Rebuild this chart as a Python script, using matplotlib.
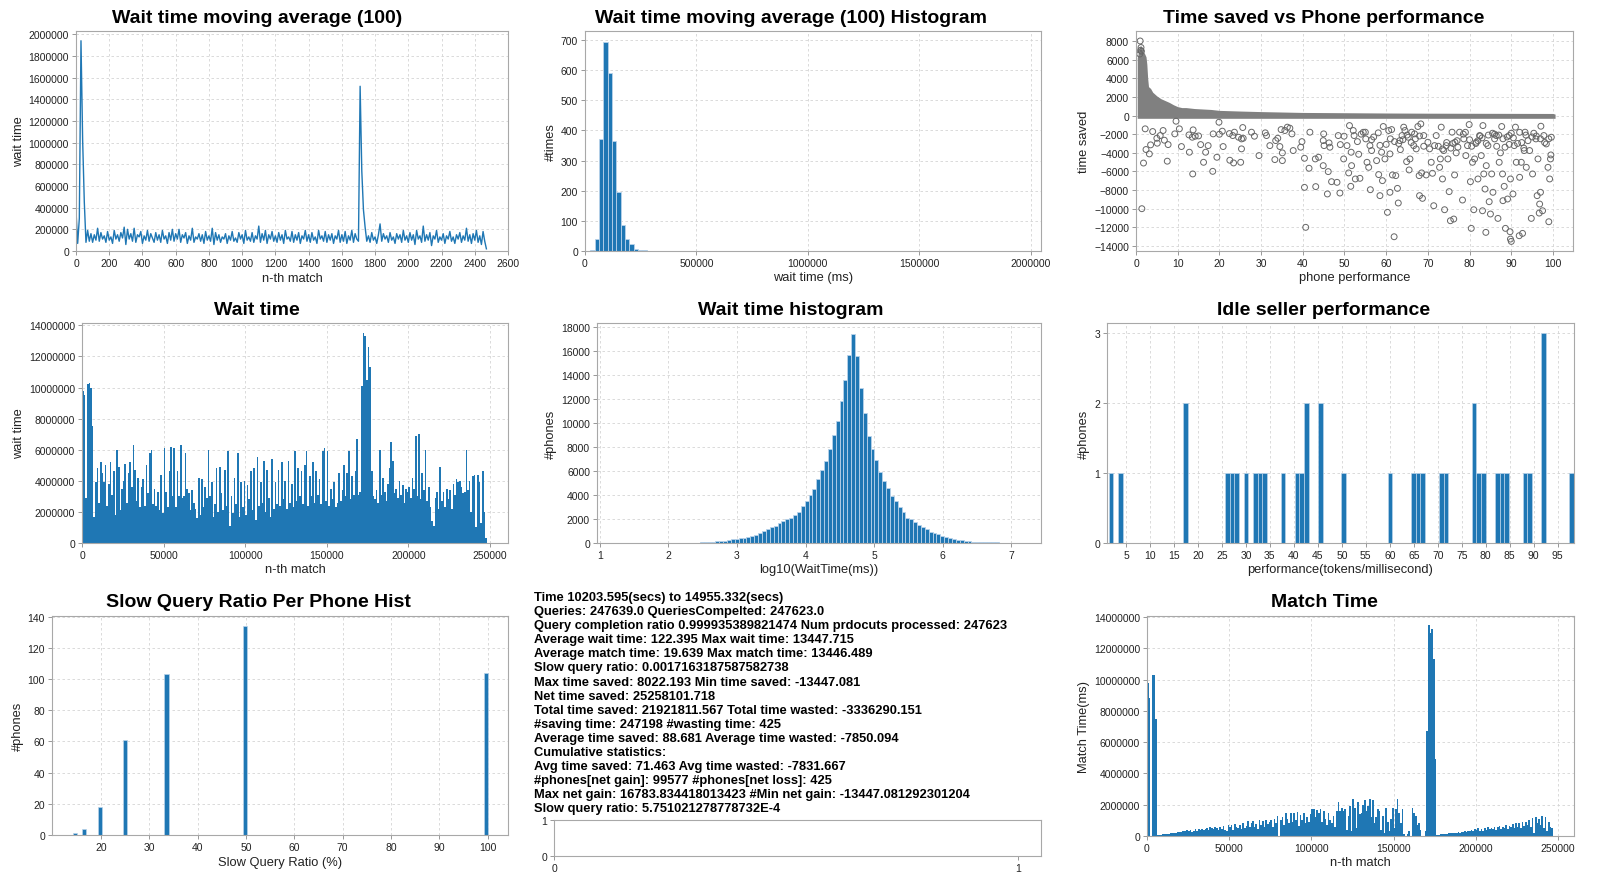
import numpy as np
import matplotlib.pyplot as plt

plt.rcParams['font.family'] = ['Liberation Sans', 'DejaVu Sans']

BLUE = '#1f77b4'

# wait time moving average (100), in thousands of ms, one value every 10 matches
ma_step = 10
ma_wait = [370, 70, 300, 1940, 1020, 450, 80, 190, 90, 160,
           80, 150, 100, 210, 90, 170, 110, 140, 80, 180,
           100, 130, 70, 190, 110, 150, 90, 170, 120, 220,
           60, 200, 110, 160, 90, 210, 80, 150, 130, 180,
           70, 140, 100, 190, 90, 160, 120, 80, 170, 100,
           150, 80, 190, 110, 140, 70, 170, 100, 200, 90,
           160, 110, 200, 80, 150, 120, 170, 70, 140, 100,
           210, 80, 130, 110, 160, 90, 150, 70, 180, 100,
           140, 90, 210, 60, 170, 100, 150, 80, 130, 110,
           160, 70, 140, 100, 180, 90, 120, 80, 170, 110,
           150, 70, 190, 100, 130, 90, 170, 80, 140, 110,
           230, 80, 160, 100, 190, 70, 150, 110, 180, 90,
           140, 80, 170, 100, 150, 70, 190, 110, 130, 90,
           180, 80, 150, 100, 170, 70, 140, 110, 190, 90,
           150, 80, 170, 100, 130, 70, 190, 110, 140, 90,
           180, 80, 150, 100, 160, 70, 140, 110, 190, 80,
           150, 90, 180, 70, 140, 100, 190, 80, 160, 110,
           90, 1520, 740, 380, 220, 90, 140, 80, 170, 100,
           130, 70, 150, 250, 90, 160, 110, 140, 80, 170,
           100, 130, 70, 160, 110, 150, 80, 190, 100, 140,
           80, 170, 100, 150, 60, 190, 110, 140, 80, 230,
           90, 150, 100, 170, 50, 140, 110, 190, 80, 130,
           100, 160, 70, 140, 110, 180, 90, 130, 70, 150,
           110, 170, 80, 140, 100, 210, 90, 150, 70, 160,
           100, 190, 80, 140, 60, 180, 90, 20]

# histogram of the moving average (100 bins)
mah_start = 24000
mah_width = 19400
mah_counts = [3, 39, 372, 695, 592, 366, 195, 87, 40, 23,
              8, 3, 2, 1, 0, 0, 0, 1, 0, 1,
              0, 1, 0, 1, 0, 1, 1, 0, 1, 0,
              0, 0, 0, 1, 0, 0, 1, 0, 0, 1,
              0, 0, 0, 1, 0, 0, 0, 0, 1, 0,
              0, 1, 0, 0, 0, 1, 0, 0, 0, 0,
              1, 0, 0, 0, 0, 0, 0, 0, 0, 0,
              1, 0, 0, 0, 0, 0, 0, 1, 0, 0,
              0, 0, 0, 1, 0, 0, 0, 0, 0, 0,
              0, 1, 0, 0, 0, 0, 1, 0, 0, 1]

# time saved vs phone performance: dense positive band + losing phones
band_x = [0.3, 0.6, 0.9, 1.1, 1.3, 1.6, 2.0, 2.4, 2.6, 2.8, 3.0, 3.5, 4.0, 4.5,
          5.0, 6.0, 7.0, 8.0, 9.0, 10.0, 11.0, 12.0, 13.0, 14.0, 16.0, 18.0,
          20.0, 25.0, 30.0, 40.0, 50.0, 60.0, 70.0, 80.0, 90.0, 100.0, 100.5]
band_top = [6200, 6800, 7300, 7600, 7300, 6900, 6700, 6300, 5500, 4000, 3100, 2900,
            2500, 2300, 2100, 1800, 1600, 1400, 1150, 950, 850, 850, 800, 750, 700,
            650, 550, 480, 420, 330, 300, 270, 250, 240, 230, 220, 150]
band_bottom = -300
top_perf = [1.0, 1.2, 1.1, 1.3, 0.9]
top_saved = [8000, 7300, 7000, 6900, 6600]
perf_neg = [1.4, 1.8, 2.2, 2.4, 3.2, 3.5, 4.0, 5.0, 5.1, 5.8, 6.5, 6.8, 7.5, 7.7, 9.3, 9.6,
            10.4, 10.9, 12.7, 12.8, 13.6, 13.7, 13.5, 14.2, 15.0, 15.5, 16.2, 16.7, 17.3,
            18.4, 18.5, 19.4, 19.9, 20.0, 20.7, 20.9, 22.4, 22.5, 23.2, 23.4, 23.6, 24.6,
            25.1, 25.3, 25.6, 25.3, 25.7, 27.7, 28.4, 29.5, 31.0, 31.3, 32.1, 33.3, 33.5,
            34.0, 34.5, 34.8, 35.1, 35.1, 35.7, 36.3, 36.9, 37.4, 37.7, 39.5, 39.8, 40.4,
            40.4, 40.7, 41.7, 41.5, 43.0, 43.1, 43.8, 44.9, 45.0, 44.9, 45.1, 45.9, 46.1,
            46.3, 46.5, 46.9, 48.2, 48.9, 48.5, 49.0, 49.9, 49.8, 50.6, 51.0, 51.2, 51.5,
            51.6, 51.7, 52.1, 52.3, 52.6, 53.1, 53.4, 53.7, 55.0, 55.1, 55.4, 55.8, 56.1,
            56.2, 56.5, 57.7, 58.1, 58.2, 58.5, 58.9, 59.1, 59.3, 59.7, 60.3, 60.6, 60.9,
            60.9, 61.3, 61.5, 61.9, 62.3, 62.7, 62.9, 63.3, 63.4, 63.8, 64.2, 64.5, 64.9,
            65.3, 65.5, 65.7, 66.1, 66.6, 66.8, 67.2, 67.6, 67.9, 68.0, 68.3, 68.5, 68.7,
            69.0, 69.6, 70.0, 70.4, 70.8, 71.1, 71.4, 71.6, 72.0, 72.8, 73.0, 73.2, 73.5,
            73.8, 74.0, 74.4, 74.8, 75.1, 75.4, 75.8, 76.2, 76.4, 76.5, 76.8, 77.2, 77.6,
            78.3, 78.6, 79.1, 79.5, 79.9, 80.2, 80.4, 80.7, 81.0, 81.2, 81.6, 82.0, 82.4,
            82.8, 83.1, 83.2, 83.4, 83.7, 83.9, 84.0, 84.4, 84.7, 85.0, 85.3, 85.6, 86.0,
            86.4, 86.8, 87.1, 87.4, 87.7, 87.9, 88.0, 88.3, 88.6, 89.1, 89.5, 89.7, 89.8,
            90.0, 89.8, 90.4, 90.7, 91.0, 91.2, 91.9, 92.0, 92.4, 92.7, 93.1, 93.3, 93.6,
            94.4, 94.8, 95.1, 95.4, 95.9, 96.2, 96.4, 96.7, 96.8, 97.0, 97.1, 97.5, 97.8,
            98.4, 98.8, 99.0, 99.2, 99.4, 99.5, 99.6,
            78.5, 79.0, 80.0, 80.5, 81.5, 82.0, 82.5, 83.0, 84.0, 84.5, 85.5, 86.0, 86.5,
            87.0, 88.0, 88.5, 89.0, 89.5, 90.0, 90.5, 91.5, 92.0, 92.5, 93.0, 93.5, 94.0,
            95.0, 96.0, 97.0, 98.0, 99.0, 60.0, 61.0, 62.0, 63.0, 64.0, 65.0, 66.0, 67.0,
            68.0, 69.0, 72.5, 73.5, 74.5, 75.5, 76.0, 77.0, 57.0, 58.5, 56.5, 54.5, 54.0]
saved_neg = [-10000, -5100, -1430, -3650, -4120, -3150, -1720, -2440, -2970, -2150, -1610,
             -2650, -4900, -3120, -1970, -610, -1430, -3330, -2080, -3940, -6270, -1540,
             -2330, -2220, -2190, -3120, -5020, -3940, -3230, -5990, -1970, -4480, -720,
             -2010, -1680, -3330, -1940, -4800, -2150, -5090, -1790, -2330, -5020, -3580,
             -1290, -2510, -2440, -1790, -2220, -4300, -1860, -2150, -3230, -4730, -2690,
             -2440, -3330, -1510, -4010, -4840, -1610, -1250, -1360, -1970, -3760, -3400,
             -2800, -7710, -4590, -12000, -1790, -5660, -4660, -7630, -4480, -5380, -1970,
             -2690, -3230, -8420, -6020, -2940, -3400, -7100, -7170, -8320, -2150, -3120,
             -2220, -4660, -3230, -6160, -1080, -7600, -3940, -5380, -1610, -2150, -6810,
             -2800, -4160, -6740, -1790, -2510, -5020, -5560, -3230, -7960, -3760, -4840,
             -1860, -6340, -8600, -3940, -6990, -1180, -4660, -10390, -1610, -4120, -8240,
             -1510, -6380, -13010, -6450, -7820, -9390, -2690, -3660, -2150, -1250, -1610,
             -4950, -2330, -5840, -4660, -1790, -3230, -1970, -3580, -1180, -6450, -8600,
             -900, -6160, -8890, -2150, -6380, -2870, -3580, -5020, -6200, -9680, -3230,
             -2150, -5560, -4660, -1250, -6810, -3760, -10110, -3230, -4660, -8170, -11290,
             -1790, -11110, -6380, -2870, -4010, -3400, -1790, -9070, -2510, -4300, -3230,
             -970, -7100, -12110, -5020, -10110, -4660, -2870, -6810, -2150, -4300, -10220,
             -1080, -6270, -7890, -12540, -5380, -3230, -9250, -10570, -6270, -8240, -2510,
             -2150, -11040, -5020, -4010, -1180, -6270, -9140, -7600, -12110, -8960, -2150,
             -12470, -13260, -13510, -6810, -8420, -3230, -1250, -5020, -12900, -6630,
             -5020, -12650, -3760, -1790, -5560, -3760, -11040, -6270, -1900, -2510, -8600,
             -4660, -10470, -9500, -8240, -1150, -10220, -2150, -3050, -5560, -11400, -6810,
             -4660, -4230, -2330,
             -2000, -1800, -2600, -3300, -3000, -2700, -2200, -2400, -3000, -2100, -1900,
             -2000, -3300, -2100, -2500, -3400, -2300, -3100, -1900, -2400, -3000, -1800,
             -2900, -3500, -2100, -2700, -2300, -2200, -2500, -2900, -2500, -3100, -2500,
             -2800, -3000, -2600, -2100, -2900, -2500, -2200, -3300, -3300, -3600, -2900,
             -3500, -3000, -2700, -2300, -3200, -2600, -1800, -2000]

# wait time per 1000 matches (millions of ms)
blk = 1000
wait_time = [9.8, 9.5, 2.9, 10.2, 10.3, 10.0, 7.5, 1.7, 3.9, 4.8,
             2.6, 5.2, 4.5, 3.9, 5.0, 2.4, 3.8, 5.2, 3.1, 4.6,
             1.8, 6.0, 4.9, 2.1, 3.5, 4.0, 5.1, 2.6, 4.5, 5.2,
             3.6, 6.3, 4.7, 2.7, 4.2, 2.3, 3.6, 4.1, 2.4, 5.0,
             3.2, 5.8, 6.0, 2.5, 3.5, 2.4, 3.3, 2.1, 4.4, 1.9,
             6.1, 3.3, 2.3, 4.6, 6.2, 3.0, 6.1, 2.3, 4.6, 3.0,
             6.3, 2.9, 3.0, 5.8, 3.5, 3.2, 2.1, 3.4, 2.6, 2.2,
             1.6, 4.2, 1.8, 4.1, 2.3, 3.6, 2.9, 6.0, 3.0, 3.9,
             1.7, 2.5, 4.8, 2.0, 4.9, 3.2, 2.1, 4.7, 2.4, 5.9,
             1.1, 3.0, 1.9, 4.2, 2.5, 5.8, 1.7, 3.9, 2.3, 4.0,
             1.8, 3.7, 2.8, 4.6, 2.1, 4.8, 1.5, 5.5, 2.4, 3.9,
             2.6, 5.3, 2.0, 4.7, 2.9, 1.7, 5.4, 2.2, 3.9, 2.5,
             4.7, 2.4, 5.2, 2.8, 4.0, 2.2, 5.3, 2.6, 3.8, 2.3,
             5.9, 2.7, 4.8, 3.0, 4.6, 2.5, 5.0, 5.9, 2.4, 4.3,
             3.0, 5.2, 2.6, 4.6, 3.1, 4.1, 2.5, 5.9, 6.1, 2.7,
             5.9, 2.4, 3.5, 2.8, 3.9, 2.3, 2.6, 4.5, 2.7, 3.4,
             5.0, 3.0, 4.5, 5.9, 2.8, 4.3, 3.1, 4.6, 6.7, 3.1,
             3.3, 10.1, 13.5, 13.3, 10.5, 12.6, 11.3, 4.6, 3.0, 2.8,
             3.4, 2.6, 6.0, 3.1, 4.2, 3.3, 2.7, 3.8, 4.8, 6.5,
             5.3, 3.2, 3.5, 2.9, 4.0, 3.1, 3.7, 2.6, 3.5, 3.3,
             3.6, 2.9, 4.2, 3.5, 6.9, 3.0, 7.0, 2.8, 4.5, 3.4,
             6.0, 2.7, 3.6, 2.3, 1.4, 1.1, 2.9, 3.3, 2.2, 4.9,
             2.7, 3.3, 2.3, 3.5, 2.8, 3.4, 2.2, 3.8, 3.1, 4.1,
             3.9, 4.0, 3.6, 3.2, 3.3, 6.0, 3.4, 4.0, 2.0, 4.3,
             4.4, 1.0, 4.4, 3.9, 1.3, 4.6, 2.0, 0.3]

# log10 wait time histogram (100 bins)
wh_start = 1.5
wh_width = 0.0565
wh_counts = [0, 0, 0, 0, 0, 0, 0, 0, 1, 2,
             3, 5, 8, 12, 18, 25, 32, 42, 58, 78,
             100, 130, 170, 200, 250, 300, 360, 400, 450, 500,
             600, 680, 800, 970, 1150, 1300, 1450, 1650, 1800, 2000,
             2100, 2300, 2600, 3100, 3500, 4000, 4500, 5300, 6100, 6800,
             7800, 9000, 10200, 11800, 13600, 15700, 17450, 15600, 12900, 10800,
             8900, 7800, 6900, 5900, 5200, 4600, 3900, 3500, 3000, 2600,
             2100, 2000, 1750, 1500, 1300, 1150, 950, 830, 720, 580,
             470, 400, 330, 280, 220, 170, 140, 120, 100, 90,
             80, 70, 60, 50, 40, 30, 25, 20, 10, 5]

# idle seller performance (bin left edge, #phones)
idle_width = 0.97
idle_left = [1.39, 3.33, 16.91, 25.64, 26.61, 27.58, 29.52, 31.46, 32.43, 33.40, 37.28,
             40.19, 41.16, 42.13, 45.04, 49.89, 59.59, 64.44, 65.41, 66.38, 70.26, 71.23,
             77.05, 78.02, 78.99, 81.90, 82.87, 83.84, 87.72, 88.69, 91.60, 97.42]
idle_count = [1, 1, 2, 1, 1, 1, 1, 1, 1, 1, 1, 1, 1, 2, 2, 1, 1, 1, 1, 1, 1, 1, 2, 1, 1,
              1, 1, 1, 1, 1, 3, 1]

# slow query ratio per phone
slow_ratio = [14.29, 16.67, 20.0, 25.0, 33.33, 50.0, 100.0]
slow_phones = [1, 4, 18, 61, 103, 134, 104]

# match time per 1000 matches (millions of ms)
match_time = [9.8, 8.8, 0.0, 10.3, 10.3, 7.5, 0.05, 0.05, 0.08, 0.1,
              0.12, 0.13, 0.14, 0.15, 0.17, 0.18, 0.2, 0.22, 0.24, 0.26,
              0.28, 0.3, 0.31, 0.33, 0.36, 0.32, 0.38, 0.28, 0.35, 0.45,
              0.3, 0.42, 0.38, 0.47, 0.36, 0.45, 0.48, 0.4, 0.55, 0.5,
              0.42, 0.58, 0.5, 0.4, 0.55, 0.45, 0.62, 0.4, 0.3, 0.72,
              0.55, 0.68, 0.4, 0.78, 0.6, 0.5, 0.72, 0.45, 0.85, 0.5,
              0.65, 0.95, 0.55, 0.8, 0.98, 0.6, 0.75, 0.45, 1.0, 0.7,
              0.95, 0.6, 1.05, 0.75, 0.9, 1.0, 0.6, 1.1, 0.85, 1.3,
              0.0, 1.0, 1.2, 0.7, 1.45, 1.1, 0.8, 1.5, 0.9, 1.45,
              1.0, 1.55, 0.65, 1.35, 1.0, 1.45, 0.8, 1.2, 0.9, 1.4,
              1.75, 1.7, 1.2, 1.65, 1.45, 1.75, 0.9, 1.6, 1.1, 0.7,
              1.5, 1.0, 0.8, 1.3, 0.6, 1.6, 2.2, 1.6, 1.8, 1.6,
              1.7, 0.4, 1.3, 1.9, 0.3, 2.35, 1.8, 0.5, 2.2, 1.4,
              1.5, 2.0, 2.3, 1.6, 1.9, 2.35, 1.2, 2.3, 0.8, 1.2,
              1.7, 1.6, 0.4, 1.3, 0.2, 1.8, 0.9, 0.3, 1.1, 1.8,
              0.5, 1.7, 2.35, 1.5, 0.8, 1.75, 0.1, 0.0, 0.1, 0.3,
              0.0, 1.8, 1.5, 1.3, 0.7, 0.8, 0.4, 0.0, 0.0, 0.3,
              6.7, 13.5, 13.0, 13.2, 11.3, 4.9, 0.05, 0.08, 0.1, 0.1,
              0.12, 0.15, 0.13, 0.18, 0.16, 0.2, 0.18, 0.22, 0.2, 0.25,
              0.22, 0.28, 0.25, 0.3, 0.26, 0.35, 0.3, 0.38, 0.33, 0.45,
              0.4, 0.5, 0.35, 0.42, 0.3, 0.48, 0.38, 0.55, 0.42, 0.5,
              0.45, 0.6, 0.4, 0.55, 0.65, 0.45, 0.6, 0.5, 0.72, 0.45,
              0.65, 0.55, 0.75, 0.5, 0.85, 0.6, 0.8, 0.5, 0.9, 0.65,
              0.9, 0.7, 1.05, 0.6, 1.15, 0.2, 1.2, 0.8, 1.1, 0.7,
              1.25, 0.5, 1.2, 0.3, 0.9, 0.6, 0.5, 0.0]

stats = ["Time 10203.595(secs) to 14955.332(secs)",
         "Queries: 247639.0 QueriesCompelted: 247623.0",
         "Query completion ratio 0.999935389821474 Num prdocuts processed: 247623",
         "Average wait time: 122.395 Max wait time: 13447.715",
         "Average match time: 19.639 Max match time: 13446.489",
         "Slow query ratio: 0.0017163187587582738",
         "Max time saved: 8022.193 Min time saved: -13447.081",
         "Net time saved: 25258101.718",
         "Total time saved: 21921811.567 Total time wasted: -3336290.151",
         "#saving time: 247198 #wasting time: 425",
         "Average time saved: 88.681 Average time wasted: -7850.094",
         "Cumulative statistics:",
         "Avg time saved: 71.463 Avg time wasted: -7831.667",
         "#phones[net gain]: 99577 #phones[net loss]: 425",
         "Max net gain: 16783.834418013423 #Min net gain: -13447.081292301204",
         "Slow query ratio: 5.751021278778732E-4"]

W, H = 1600, 878
fig = plt.figure(figsize=(16, 8.78), dpi=100)


def add_ax(l, t, r, b):
    return fig.add_axes([l / W, 1 - b / H, (r - l) / W, (b - t) / H])


def style(ax, grid=True):
    if grid:
        ax.grid(True, color='#d4d4d4', linestyle=(0, (3, 3)), linewidth=0.6)
    ax.set_axisbelow(True)
    for s in ax.spines.values():
        s.set_color('#a8a8a8')
    ax.tick_params(length=3, width=0.6, color='#888888', labelsize=7.5,
                   labelcolor='#222222', pad=2)
    ax.ticklabel_format(style='plain', useOffset=False)


def labels(ax, title, tx, ty, xlab, xl_y, ylab, yl_x):
    p = ax.get_position()
    fig.text(tx / W, 1 - ty / H, title, ha='center', va='baseline',
             fontsize=14, fontweight='bold')
    fig.text((p.x0 + p.x1) / 2, 1 - xl_y / H, xlab, ha='center', va='baseline',
             fontsize=9.3, color='#222222')
    fig.text(yl_x / W, (p.y0 + p.y1) / 2, ylab, ha='center', va='center',
             rotation=90, fontsize=9.3, color='#222222')


# row 1
ax1 = add_ax(76, 32, 508, 252)
ax1.plot(np.arange(len(ma_wait)) * ma_step, np.array(ma_wait) * 1000, color=BLUE, lw=1.0)
ax1.set_xlim(0, 2600)
ax1.set_ylim(0, 2030000)
ax1.set_xticks(range(0, 2601, 200))
ax1.set_yticks(range(0, 2000001, 200000))
style(ax1)
labels(ax1, "Wait time moving average (100)", 257, 23, "n-th match", 282, "wait time", 19)

ax2 = add_ax(585, 32, 1041, 252)
mah_left = mah_start + np.arange(len(mah_counts)) * mah_width
ax2.bar(mah_left, mah_counts, width=mah_width, align='edge', color=BLUE,
        edgecolor='#b9d3ea', linewidth=0.6)
ax2.set_xlim(0, 2046700)
ax2.set_ylim(0, 730)
ax2.set_xticks([0, 500000, 1000000, 1500000, 2000000])
ax2.set_yticks(range(0, 701, 100))
style(ax2)
labels(ax2, "Wait time moving average (100) Histogram", 791, 23, "wait time (ms)", 281, "#times", 551)

ax3 = add_ax(1136, 32, 1573, 252)
ax3.fill_between(band_x, band_bottom, band_top, color='#808080', lw=0)
ax3.scatter(top_perf, top_saved, s=18, facecolors='none', edgecolors='#666666', linewidths=0.7)
ax3.scatter(perf_neg, saved_neg, s=18, facecolors='none', edgecolors='#666666', linewidths=0.7)
ax3.set_xlim(0, 104.8)
ax3.set_ylim(-14540, 9070)
ax3.set_xticks(range(0, 101, 10))
ax3.set_yticks(range(-14000, 8001, 2000))
style(ax3)
labels(ax3, "Time saved vs Phone performance", 1324, 23, "phone performance", 281, "time saved", 1084)

# row 2
ax4 = add_ax(82, 324, 508, 544)
ax4.bar(np.arange(len(wait_time)) * blk, np.array(wait_time) * 1e6, width=blk,
        align='edge', color=BLUE, linewidth=0)
ax4.set_xlim(0, 261000)
ax4.set_ylim(0, 14150000)
ax4.set_xticks(range(0, 250001, 50000))
ax4.set_yticks(range(0, 14000001, 2000000))
style(ax4)
labels(ax4, "Wait time", 257, 315, "n-th match", 573, "wait time", 19)

ax5 = add_ax(597, 324, 1041, 544)
wh_left = wh_start + np.arange(len(wh_counts)) * wh_width
ax5.bar(wh_left, wh_counts, width=wh_width, align='edge', color=BLUE,
        edgecolor='#b9d3ea', linewidth=0.6)
ax5.set_xlim(0.96, 7.43)
ax5.set_ylim(0, 18330)
ax5.set_xticks(range(1, 8))
ax5.set_yticks(range(0, 18001, 2000))
style(ax5)
labels(ax5, "Wait time histogram", 791, 315, "log10(WaitTime(ms))", 573, "#phones", 551)

ax6 = add_ax(1107, 324, 1574, 544)
ax6.bar(idle_left, idle_count, width=idle_width, align='edge', color=BLUE,
        edgecolor='#b9d3ea', linewidth=0.5)
ax6.set_xlim(1.04, 98.4)
ax6.set_ylim(0, 3.14)
ax6.set_xticks(range(5, 96, 5))
ax6.set_yticks([0, 1, 2, 3])
style(ax6)
labels(ax6, "Idle seller performance", 1324, 315, "performance(tokens/millisecond)", 573, "#phones", 1084)

# row 3
ax7 = add_ax(52, 617, 508, 836)
ax7.hist(slow_ratio, bins=100, weights=slow_phones, color=BLUE,
         edgecolor='#b9d3ea', linewidth=0.5)
ax7.set_xlim(9.9, 104.2)
ax7.set_ylim(0, 140.5)
ax7.set_xticks(range(20, 101, 10))
ax7.set_yticks(range(0, 141, 20))
style(ax7)
labels(ax7, "Slow Query Ratio Per Phone Hist", 258, 607, "Slow Query Ratio (%)", 866, "#phones", 18)

for i, line in enumerate(stats):
    fig.text(534 / W, 1 - (601 + i * 14.1) / H, line, ha='left', va='baseline',
             fontsize=9.3, fontweight='bold')

ax8 = add_ax(554, 821, 1041, 857)
ax8.set_xlim(0, 1.05)
ax8.set_ylim(0, 1)
ax8.set_xticks([0, 1])
ax8.set_yticks([0, 1])
style(ax8, grid=False)

ax9 = add_ax(1147, 617, 1574, 837)
ax9.bar(np.arange(len(match_time)) * blk, np.array(match_time) * 1e6, width=blk,
        align='edge', color=BLUE, linewidth=0)
ax9.set_xlim(0, 259800)
ax9.set_ylim(0, 14060000)
ax9.set_xticks(range(0, 250001, 50000))
ax9.set_yticks(range(0, 14000001, 2000000))
style(ax9)
labels(ax9, "Match Time", 1324, 607, "n-th match", 866, "Match Time(ms)", 1084)

plt.savefig("out.png", dpi=100)
